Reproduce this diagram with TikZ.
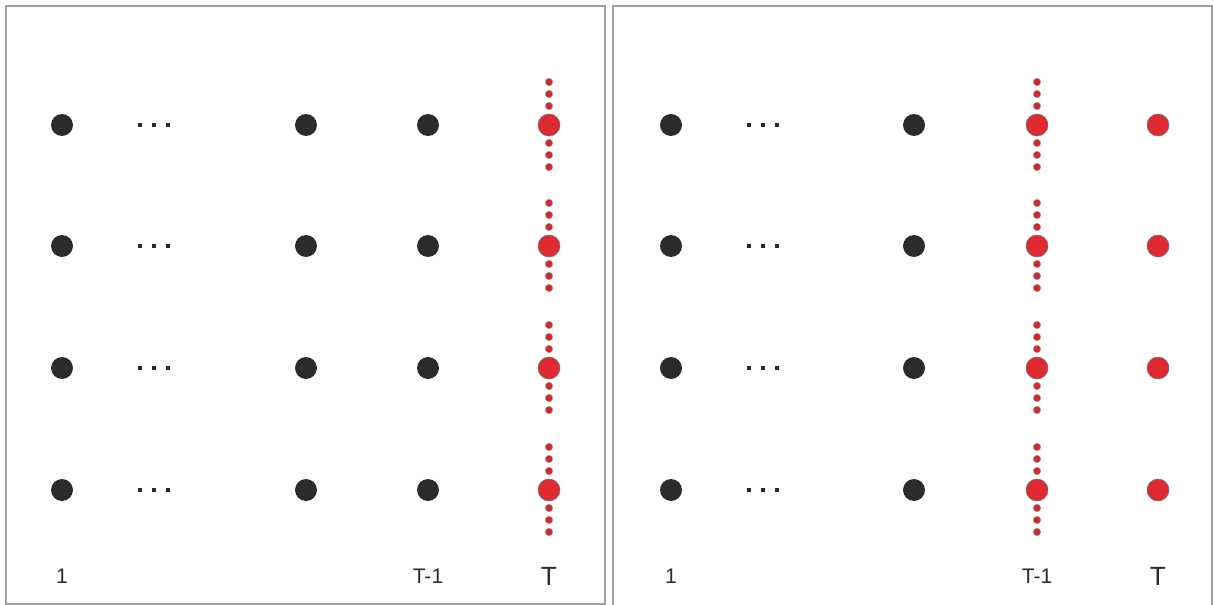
\documentclass[tikz,border=0pt]{standalone}
\usepackage{fontspec}
\setmainfont{Liberation Sans}
\usetikzlibrary{positioning}
\definecolor{dotgray}{HTML}{2B2B2B}
\definecolor{dotred}{HTML}{DF2A33}
\definecolor{framegray}{HTML}{A0A0A0}

\begin{document}
\begin{tikzpicture}[x=0.02cm, y=-0.02cm,
    blackdot/.style={circle, fill=dotgray, minimum size=0.44cm, inner sep=0pt},
    reddot/.style={circle, fill=dotred, draw=black!55, line width=0.3pt, minimum size=0.44cm, inner sep=0pt},
    tinydot/.style={circle, fill=dotred!95!black, draw=black!40, line width=0.25pt, minimum size=0.15cm, inner sep=0pt},
    ellip/.style={rectangle, fill=dotgray, minimum size=0.075cm, inner sep=0pt},
    steplabel/.style={font=\fontsize{12}{14}\selectfont, text=dotgray},
    biglabel/.style={font=\fontsize{15}{17}\selectfont, text=dotgray},
    frame/.style={draw=framegray, line width=0.8pt}
]
    \useasboundingbox (0,0) rectangle (1214,605);

    % Panels
    \draw[frame] (6,6) rectangle (605,604);
    \draw[frame] (613,605) -- (613,6) -- (1212,6) -- (1212,605);

    % Left panel: last step is red
    \foreach \r/\y in {a/125, b/246, c/368, d/490} {
        \node[blackdot] (first-\r) at (62,\y) {};
        \node[ellip] (dotsa-\r) at (140,\y) {};
        \node[ellip] (dotsb-\r) at (154,\y) {};
        \node[ellip] (dotsc-\r) at (168,\y) {};
        \node[blackdot] (mid-\r) at (306,\y) {};
        \node[blackdot] (prev-\r) at (428,\y) {};
        \foreach \d in {-43,-31,-19,18,30,42}
            \node[tinydot] at (549,\y+\d) {};
        \node[reddot] (last-\r) at (549,\y) {};
    }

    % Right panel: last two steps are red
    \foreach \r/\y in {a/125, b/246, c/368, d/490} {
        \node[blackdot] (rfirst-\r) at (671,\y) {};
        \node[ellip] (rdotsa-\r) at (749,\y) {};
        \node[ellip] (rdotsb-\r) at (763,\y) {};
        \node[ellip] (rdotsc-\r) at (777,\y) {};
        \node[blackdot] (rmid-\r) at (914,\y) {};
        \foreach \d in {-43,-31,-19,18,30,42}
            \node[tinydot] at (1037,\y+\d) {};
        \node[reddot] (rprev-\r) at (1037,\y) {};
        \node[reddot] (rlast-\r) at (1158,\y) {};
    }

    % Labels
    \node[steplabel] (lab-one) at (62,576) {1};
    \node[steplabel] (lab-prev) at (428,576) {T-1};
    \node[biglabel] (lab-last) at (549,576) {T};
    \node[steplabel] (rlab-one) at (671,576) {1};
    \node[steplabel] (rlab-prev) at (1037,576) {T-1};
    \node[biglabel] (rlab-last) at (1158,576) {T};

\end{tikzpicture}
\end{document}
